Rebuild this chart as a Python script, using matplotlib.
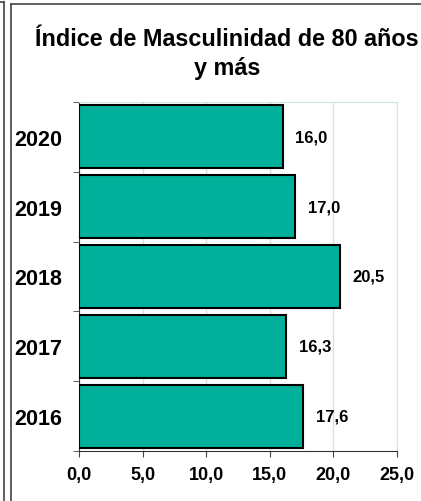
import matplotlib
matplotlib.use('Agg')
import matplotlib.pyplot as plt
from matplotlib.lines import Line2D

# Data
years = ['2016', '2017', '2018', '2019', '2020']
values = [17.6, 16.3, 20.5, 17.0, 16.0]
xticks = [0, 5, 10, 15, 20, 25]

plt.rcParams['font.family'] = ['Liberation Sans', 'DejaVu Sans']
plt.rcParams['font.weight'] = 'bold'

W, H = 421, 502
fig = plt.figure(figsize=(W / 100, H / 100), dpi=100)

# frame lines (neighbouring chart border + this chart border)
def px(x, y):
    return x / W, 1 - y / H

for seg in [((4, 3), (4, 502)), ((0, 3), (4, 3)), ((11, 5), (11, 502)), ((11, 5), (421, 5))]:
    (x0, y0), (x1, y1) = px(*seg[0]), px(*seg[1])
    fig.add_artist(Line2D([x0, x1], [y0, y1], color='#444444', lw=1.2))

ax = fig.add_axes([79 / W, 1 - 452 / H, (397 - 79) / W, (452 - 103) / H])

ypos = range(len(years))
ax.barh(ypos, values, height=0.9, color='#00B09B', edgecolor='black', linewidth=1.5, zorder=3)
for y, v in zip(ypos, values):
    ax.text(v + 1.0, y, f'{v:.1f}'.replace('.', ','), va='center', ha='left',
            fontsize=12, fontweight='bold')

ax.set_xlim(0, 25)
ax.set_ylim(-0.5, len(years) - 0.5)
ax.set_xticks(xticks)
ax.set_xticklabels([f'{t:.1f}'.replace('.', ',') for t in xticks], fontsize=13, fontweight='bold')
ax.set_yticks(list(ypos))
ax.set_yticklabels(years, fontsize=15.5, fontweight='bold')
ax.set_yticks([i - 0.5 for i in range(len(years) + 1)], minor=True)
ax.tick_params(axis='y', which='major', length=0, pad=12)
ax.tick_params(axis='y', which='minor', length=4, color='#444444')
ax.tick_params(axis='x', length=4, color='#444444', pad=7)

ax.grid(axis='x', color='#D5E3E6', lw=1, zorder=0)
ax.spines['top'].set_color('#D5E3E6')
ax.spines['right'].set_color('#D5E3E6')
ax.spines['left'].set_color('#333333')
ax.spines['bottom'].set_color('#333333')

fig.text(227 / W, 1 - 54 / H, 'Índice de Masculinidad de 80 años\ny más', ha='center', va='center',
         fontsize=16.8, fontweight='bold', linespacing=1.35)

fig.savefig('out.png', dpi=100)
